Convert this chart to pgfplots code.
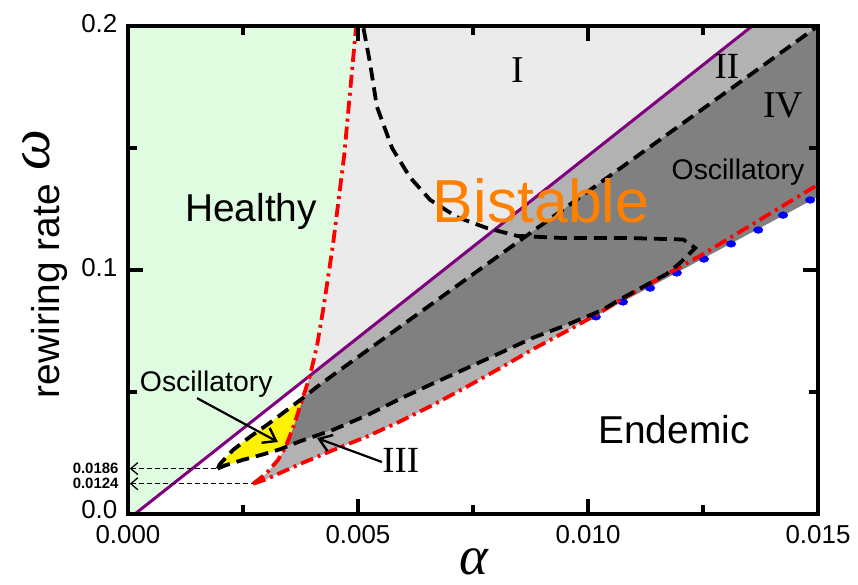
\documentclass[border=0pt]{standalone}
\usepackage{fontspec}
\setmainfont{Liberation Sans}
\newfontfamily\seriffont{Liberation Serif}
\usepackage{pgfplots}
\pgfplotsset{compat=1.18}
\usetikzlibrary{arrows.meta}
\definecolor{healthy}{HTML}{E0FCE0}
\definecolor{regI}{HTML}{EBEBEB}
\definecolor{regII}{HTML}{B2B2B2}
\definecolor{regIV}{HTML}{808080}
\definecolor{purp}{HTML}{800080}
\definecolor{orng}{HTML}{FF8000}
\begin{document}
\begin{tikzpicture}
\path[use as bounding box] (-128bp,-71bp) rectangle (730bp,514bp);
\begin{axis}[
  scale only axis, width=690bp, height=488bp,
  xmin=0, xmax=0.015, ymin=0, ymax=0.2,
  xtick={0,0.005,0.01,0.015}, xticklabels={0.000,0.005,0.010,0.015},
  ytick={0,0.1,0.2}, yticklabels={\raisebox{5bp}{0.0},0.1,0.2},
  minor xtick={0.0025,0.0075,0.0125}, minor ytick={0.05,0.15},
  tick align=inside,
  major tick length=15bp, minor tick length=9bp,
  every tick/.style={black, line width=3.2bp},
  axis line style={line width=3.5bp},
  ticklabel style={font=\fontsize{26}{26}\selectfont, inner sep=1bp},
  /pgf/number format/assume math mode=true,
  scaled ticks=false,
  xticklabel style={yshift=-10.5bp},
  yticklabel style={xshift=-9.5bp, yshift=2bp},
  clip mode=individual,
  axis on top,
]
% --- filled regions ---
\addplot[fill=healthy, draw=none] coordinates {(0,0) (0.00015,0) (0.00395,0.0566) (0.00396,0.057) (0.00411,0.069) (0.00424,0.0835) (0.00435,0.097) (0.00446,0.111) (0.0047,0.147) (0.00496,0.2) (0,0.2)} -- cycle;
\addplot[fill=regI, draw=none] coordinates {(0.00395,0.0566) (0.00396,0.057) (0.00411,0.069) (0.00424,0.0835) (0.00435,0.097) (0.00446,0.111) (0.0047,0.147) (0.00496,0.2) (0.01357,0.2)} -- cycle;
\addplot[fill=regII, draw=none] coordinates {(0.0038,0.0475) (0.00395,0.0566) (0.01357,0.2) (0.015,0.2) (0.00446,0.057) (0.0041,0.052)} -- cycle;
\addplot[fill=regIV, draw=none] coordinates {(0.0038,0.0475) (0.0041,0.052) (0.00446,0.057) (0.015,0.2) (0.015,0.1300) (0.0103,0.0824) (0.00954,0.0775) (0.0088,0.0722) (0.00809,0.066) (0.00737,0.0598) (0.00663,0.0535) (0.00591,0.0472) (0.0052,0.0405) (0.00446,0.0345) (0.00374,0.0298) (0.00343,0.0276) (0.0036,0.036)} -- cycle;
\addplot[fill=regII, draw=none] coordinates {(0.00272,0.0124) (0.0030,0.0142) (0.00374,0.0205) (0.00446,0.0262) (0.0052,0.0318) (0.00591,0.0379) (0.00663,0.0447) (0.00737,0.0522) (0.00809,0.0598) (0.0088,0.0675) (0.00954,0.0750) (0.0103,0.0828) (0.00954,0.0775) (0.0088,0.0722) (0.00809,0.066) (0.00737,0.0598) (0.00663,0.0535) (0.00591,0.0472) (0.0052,0.0405) (0.00446,0.0345) (0.00374,0.0298) (0.00343,0.0276) (0.00326,0.0221) (0.0030,0.0165)} -- cycle;
\addplot[fill=yellow, draw=none] coordinates {(0.00195,0.0186) (0.0020,0.0205) (0.00228,0.0262) (0.00265,0.0316) (0.00302,0.0365) (0.00337,0.0414) (0.0038,0.0475) (0.0036,0.036) (0.00343,0.0276) (0.0033,0.0265) (0.00293,0.0244) (0.0025,0.0222) (0.00211,0.0199)} -- cycle;
% --- boundary lines ---
\addplot[purp, line width=3bp] coordinates {(0.00015,0) (0.01357,0.2)};
\addplot[blue, only marks, mark=*, mark size=4bp, mark options={xscale=1.2, yscale=0.85}] coordinates {(0.01017,0.0808) (0.01076,0.0869) (0.01135,0.0926) (0.01193,0.0988) (0.01252,0.1045) (0.01311,0.1107) (0.0137,0.1164) (0.01424,0.1225) (0.01483,0.1287)};
\addplot[red, line width=3.8bp, dash pattern=on 13bp off 5bp on 3bp off 5bp] coordinates {(0.00272,0.0124) (0.0030,0.0165) (0.00326,0.0221) (0.00343,0.0276) (0.0036,0.036) (0.0038,0.0475) (0.00396,0.057) (0.00411,0.069) (0.00424,0.0835) (0.00435,0.097) (0.00446,0.111) (0.0047,0.147) (0.00496,0.2)};
\addplot[red, line width=3.8bp, dash pattern=on 13bp off 5bp on 3bp off 5bp] coordinates {(0.00272,0.0124) (0.0030,0.0142) (0.00374,0.0205) (0.00446,0.0262) (0.0052,0.0318) (0.00591,0.0379) (0.00663,0.0447) (0.00737,0.0522) (0.00809,0.0598) (0.0088,0.0675) (0.00954,0.0750) (0.01026,0.0825) (0.0107,0.0877) (0.0125,0.1065) (0.015,0.135)};
\addplot[black, line width=3.8bp, dash pattern=on 13bp off 7bp] coordinates {(0.00195,0.0186) (0.0020,0.0205) (0.00228,0.0262) (0.00265,0.0316) (0.00302,0.0365) (0.00337,0.0414) (0.0038,0.0475) (0.0041,0.052) (0.00446,0.057) (0.015,0.2)};
\addplot[black, line width=3.8bp, dash pattern=on 13bp off 7bp] coordinates {(0.00195,0.0186) (0.00211,0.0199) (0.0025,0.0222) (0.00293,0.0244) (0.0033,0.0265) (0.00374,0.0298) (0.00446,0.0345) (0.0052,0.0405) (0.00591,0.0472) (0.00663,0.0535) (0.00737,0.0598) (0.00809,0.066) (0.0088,0.0722) (0.00954,0.0775) (0.0103,0.0835) (0.0107,0.0880) (0.01172,0.0985) (0.0120,0.1029) (0.01233,0.109) (0.01207,0.1125) (0.0109,0.1131) (0.00946,0.1131) (0.00846,0.1140) (0.0078,0.1172) (0.00715,0.1217) (0.00657,0.1287) (0.00613,0.138) (0.00574,0.150) (0.00541,0.167) (0.00526,0.185) (0.00511,0.2)};
% --- annotations ---
\draw[line width=1.3bp, dash pattern=on 5bp off 3bp, {Straight Barb[length=7bp,width=12bp,line width=1.3bp]}-] (axis cs:0.00004,0.0186) -- (axis cs:0.00195,0.0186);
\draw[line width=1.3bp, dash pattern=on 5bp off 3bp, {Straight Barb[length=7bp,width=12bp,line width=1.3bp]}-] (axis cs:0.00004,0.0124) -- (axis cs:0.00272,0.0124);
\node[anchor=east, font=\bfseries\fontsize{15}{15}\selectfont] at ([xshift=-6bp]axis cs:0,0.0186) {0.0186};
\node[anchor=east, font=\bfseries\fontsize{15}{15}\selectfont] at ([xshift=-6bp]axis cs:0,0.0124) {0.0124};
\draw[line width=2.2bp, -{Straight Barb[length=12bp,width=17bp,line width=2.4bp]}] (axis cs:0.0015,0.0475) -- (axis cs:0.00326,0.0295);
\draw[line width=2.2bp, -{Straight Barb[length=12bp,width=17bp,line width=2.4bp]}] (axis cs:0.00552,0.0213) -- (axis cs:0.00411,0.0311);
\node[anchor=base, font=\fontsize{39}{39}\selectfont] at (axis cs:0.002674,0.1197) {Healthy};
\node[anchor=base, font=\fontsize{39}{39}\selectfont] at (axis cs:0.01187,0.0287) {Endemic};
\node[anchor=base, text=orng, font=\fontsize{61}{61}\selectfont] at (axis cs:0.00898,0.1193) {Bistable};
\node[anchor=base, font=\fontsize{28.5}{28.5}\selectfont] at (axis cs:0.01326,0.1369) {Oscillatory};
\node[anchor=base, font=\fontsize{28.5}{28.5}\selectfont] at (axis cs:0.0017,0.050) {Oscillatory};
\node[anchor=base, font=\seriffont\fontsize{38}{38}\selectfont] at (axis cs:0.00848,0.177) {I};
\node[anchor=base, font=\seriffont\fontsize{37}{37}\selectfont] at (axis cs:0.01302,0.1783) {II};
\node[anchor=base, font=\seriffont\fontsize{38}{38}\selectfont] at (axis cs:0.01424,0.1627) {IV};
\node[anchor=base, font=\seriffont\fontsize{37}{37}\selectfont] at (axis cs:0.00593,0.0172) {III};
\end{axis}
\node[anchor=base, inner sep=0pt] at (346bp,-60bp) {\seriffont\itshape\fontsize{55}{55}\selectfont α};
\node[rotate=90, anchor=base] at (-68bp,250bp) {\fontsize{39}{39}\selectfont rewiring rate\hspace{0.35em}\raisebox{10bp}{\seriffont\itshape\fontsize{58}{58}\selectfont ω}};
\end{tikzpicture}
\end{document}
